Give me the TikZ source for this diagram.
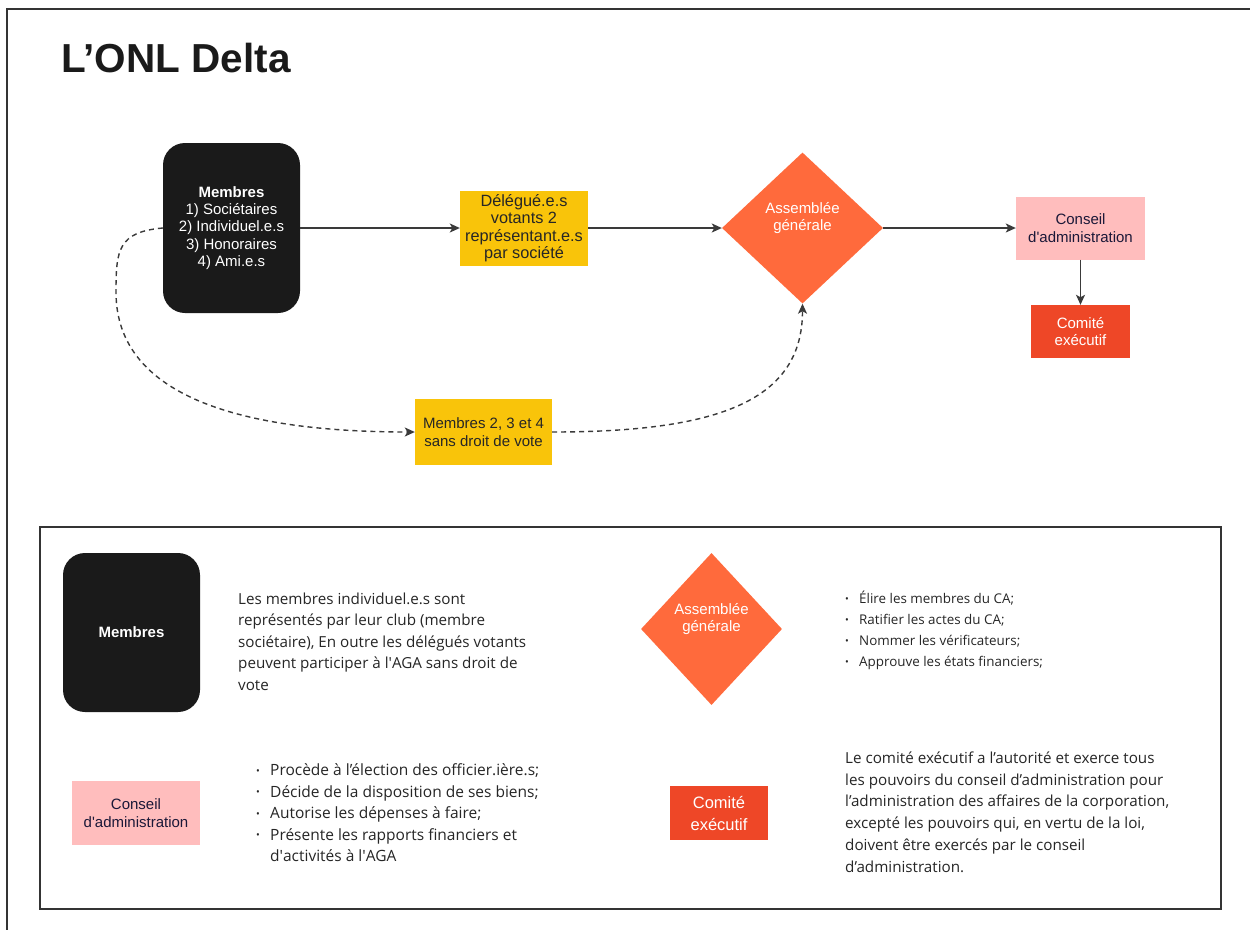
\documentclass[tikz,border=0pt]{standalone}
\usepackage{fontspec}
\setmainfont{Liberation Sans}
\newfontfamily\bodyfont{Open Sans}
\usetikzlibrary{shapes.geometric,arrows.meta}

\definecolor{inkblack}{HTML}{1A1A1A}
\definecolor{gold}{HTML}{F9C40A}
\definecolor{coral}{HTML}{FF6A3C}
\definecolor{blush}{HTML}{FFBDBD}
\definecolor{vermil}{HTML}{EE4727}
\definecolor{navy}{HTML}{1B1838}
\definecolor{edge}{HTML}{3A3A3A}
\definecolor{bodygray}{HTML}{262626}

\newcommand\sq{\textquotesingle}
\newcommand\bul{\makebox[14pt][l]{\raisebox{1.2pt}{\fontsize{10}{10}\selectfont •}}}

\tikzset{
  x=1pt, y=-1pt,
  box/.style={inner sep=0pt, align=center, font=\fontsize{15}{17.3}\selectfont},
  memberbox/.style={box, fill=inkblack, text=white, rounded corners=22pt,
    minimum width=137pt},
  goldbox/.style={box, fill=gold, text=bodygray},
  agbox/.style={box, shape=diamond, fill=coral, text=white},
  cabox/.style={box, fill=blush, text=navy},
  cebox/.style={box, fill=vermil, text=white},
  link/.style={draw=edge, line width=1.4pt,
    -{Stealth[length=10pt,width=9pt,inset=2.5pt]}},
  dashlink/.style={link, dash pattern=on 5pt off 4pt},
  frame/.style={draw=edge!90!black, line width=2pt},
  legendtext/.style={anchor=north west, inner sep=0pt, align=left,
    text=bodygray, font=\bodyfont\fontsize{15.2}{21.5}\selectfont},
}

\begin{document}
\begin{tikzpicture}
\useasboundingbox (0,0) rectangle (1250,930);
\fill[white] (0,0) rectangle (1250,930);

% page frame
\draw[frame] (1250,9) -- (7,9) -- (7,930);

% title
\node[anchor=base west, inner sep=0pt, font=\fontsize{40.5}{46}\selectfont\bfseries,
  text=inkblack] (title) at (61,72) {L’ONL Delta};

% ---------- flow ----------
\node[memberbox, minimum height=170pt] (mem) at (231.5,228)
  {\textbf{Membres}\\1) Sociétaires\\2) Individuel.e.s\\3) Honoraires\\4) Ami.e.s};
\node[goldbox, minimum width=128pt, minimum height=75pt,
  font=\fontsize{16.3}{17.4}\selectfont] (del) at (524,228)
  {Délégué.e.s\\votants 2\\représentant.e.s\\par société};
\node[agbox, minimum width=161pt, minimum height=151pt] (ag) at (802.5,228)
  {Assemblée\\générale\\\strut};
\node[cabox, minimum width=129pt, minimum height=63pt] (ca) at (1080.5,228)
  {Conseil\\d\sq administration};
\node[cebox, minimum width=99pt, minimum height=53pt] (ce) at (1080.5,331.5)
  {Comité\\exécutif};
\node[goldbox, minimum width=137pt, minimum height=66pt] (sdv) at (483.5,432)
  {Membres 2, 3 et 4\\sans droit de vote};

\draw[link] (mem.east) -- (del.west);
\draw[link] (del.east) -- (ag.west);
\draw[link] (ag.east) -- (ca.west);
\draw[link] (ca.south) -- (ce.north);
\draw[dashlink] (mem.west) .. controls (118,232) and (116,250) .. (116,292)
  .. controls (116,400) and (250,432) .. (sdv.west);
\draw[dashlink] (sdv.east) .. controls (720,432) and (802.5,400) .. (ag.south);

% ---------- legend ----------
\draw[frame] (40,527) rectangle (1221,909);

\node[memberbox, minimum height=159pt] (lmem) at (131.5,632.5) {\textbf{Membres}};
\node[legendtext] (lmemtxt) at (238,592.5)
  {Les membres individuel.e.s sont\\
   représentés par leur club (membre\\
   sociétaire), En outre les délégués votants\\
   peuvent participer à l\sq AGA sans droit de\\
   vote};

\node[agbox, minimum width=141pt, minimum height=152pt] (lag) at (711.5,629)
  {Assemblée\\générale\\\strut};
\node[legendtext, font=\bodyfont\fontsize{13.4}{21}\selectfont] (lagtxt) at (845,591)
  {\bul Élire les membres du CA;\\
   \bul Ratifier les actes du CA;\\
   \bul Nommer les vérificateurs;\\
   \bul Approuve les états financiers;};

\node[cabox, minimum width=128pt, minimum height=64pt] (lca) at (136,813)
  {Conseil\\d\sq administration};
\node[legendtext, font=\bodyfont\fontsize{15.5}{21.5}\selectfont] (lcatxt) at (256,763.5)
  {\bul Procède à l’élection des officier.ière.s;\\
   \bul Décide de la disposition de ses biens;\\
   \bul Autorise les dépenses à faire;\\
   \bul Présente les rapports financiers et\\
   \hspace*{14pt}d\sq activités à l\sq AGA};

\node[cebox, minimum width=98pt, minimum height=54pt,
  font=\fontsize{16.5}{22}\selectfont] (lce) at (719,813) {Comité\\exécutif};
\node[legendtext, font=\bodyfont\fontsize{15.2}{21.8}\selectfont] (lcetxt) at (845,751.5)
  {Le comité exécutif a l’autorité et exerce tous\\
   les pouvoirs du conseil d’administration pour\\
   l’administration des affaires de la corporation,\\
   excepté les pouvoirs qui, en vertu de la loi,\\
   doivent être exercés par le conseil\\
   d’administration.};
\end{tikzpicture}
\end{document}
